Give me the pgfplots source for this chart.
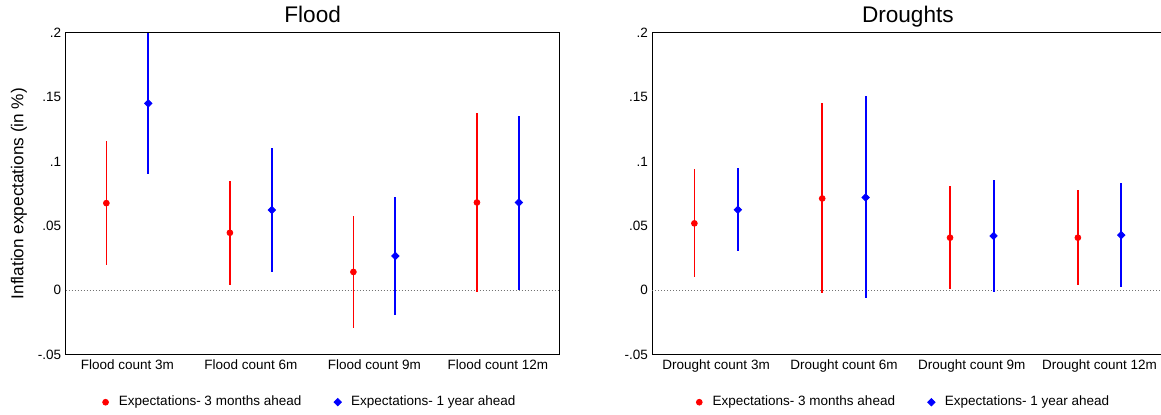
\documentclass[border=0pt]{standalone}
\usepackage{fontspec}
\setmainfont{Liberation Sans}
\usepackage{pgfplots}
\usepackage{pgfplotstable}
\pgfplotsset{compat=1.18}

% x = category -/+ 0.17, point estimate, lower and upper bound
\pgfplotstableread{
x    y      lo      hi
0.83 0.0676 0.0194  0.1156
1.83 0.0446 0.0044  0.0849
2.83 0.0142 -0.0292 0.0578
3.83 0.0681 -0.0015 0.1375
}\floodA
\pgfplotstableread{
x    y      lo      hi
1.17 0.1450 0.0903  0.1997
2.17 0.0622 0.0139  0.1105
3.17 0.0266 -0.0194 0.0725
4.17 0.0681 0.0005  0.1352
}\floodB
\pgfplotstableread{
x    y      lo      hi
0.83 0.0519 0.0101  0.0942
1.83 0.0712 -0.0021 0.1450
2.83 0.0408 0.0010  0.0808
3.83 0.0408 0.0041  0.0777
}\droughtA
\pgfplotstableread{
x    y      lo      hi
1.17 0.0625 0.0307  0.0947
2.17 0.0720 -0.0059 0.1505
3.17 0.0421 -0.0013 0.0857
4.17 0.0428 0.0028  0.0831
}\droughtB

\definecolor{sred}{RGB}{255,0,0}
\definecolor{sblue}{RGB}{0,0,255}

\pgfplotsset{
  panel/.style={
    scale only axis, height=161.1pt, anchor=south west,
    xmin=0.5, xmax=4.5, ymin=-0.05, ymax=0.2,
    xtick={1,2,3,4},
    ytick={-0.05,0,0.05,0.1,0.15,0.2},
    yticklabels={-.05,0,.05,.1,.15,.2},
    major tick length=0pt,
    axis line style={line width=0.6pt},
    tick label style={font=\fontsize{6.75}{8}\selectfont},
    yticklabel style={anchor=east, inner sep=0pt, xshift=-2pt},
    xticklabel style={anchor=base, inner sep=0pt, yshift=-7.3pt},
    every axis title shift=0pt,
    title style={font=\fontsize{11.3}{13}\selectfont, at={(0.5,1)}, anchor=base, yshift=4.85pt},
    legend columns=2,
    legend image code/.code={\draw[##1] plot coordinates {(0pt,0pt)}; \path (-2pt,-2pt) (2pt,2pt);},
    legend style={draw=none, fill=none, inner sep=0pt, anchor=west,
      font=\fontsize{6.75}{8}\selectfont, nodes={inner sep=0pt},
      /tikz/every odd column/.append style={column sep=4.5pt},
      /tikz/every even column/.append style={column sep=16pt}},
  },
  est/.style 2 args={only marks, color=#1,
    error bars/y dir=both, error bars/y explicit, error bars/error mark=none,
    error bars/error bar style={line width=#2, draw=#1}},
  m3/.style={est={sred}{0.85pt}, mark=*, mark size=1.45pt},
  y1/.style={est={sblue}{1pt}, mark=square*, mark size=1.3pt, mark options={rotate=45}},
}

\begin{document}
\begin{tikzpicture}
\useasboundingbox (0,0) rectangle (580.5pt,207.5pt);

\begin{axis}[panel, at={(32.8pt,30.15pt)}, width=247.05pt,
  title={Flood},
  xticklabels={Flood count 3m, Flood count 6m, Flood count 9m, Flood count 12m},
  ylabel={Inflation expectations (in \%)},
  every axis y label/.style={at={(axis description cs:-0.0856,0.5)}, rotate=90,
    anchor=base, font=\fontsize{8.6}{10}\selectfont},
  legend style={at={(0.0712,-0.1475)}}]
\draw[black!55, line width=0.5pt, dash pattern=on 0.5pt off 1pt]
  (axis cs:0.5,0) -- (axis cs:4.5,0);
\addplot[m3] table[x=x, y=y, y error plus expr=\thisrow{hi}-\thisrow{y},
  y error minus expr=\thisrow{y}-\thisrow{lo}] {\floodA};
\addlegendentry{Expectations- 3 months ahead}
\addplot[y1] table[x=x, y=y, y error plus expr=\thisrow{hi}-\thisrow{y},
  y error minus expr=\thisrow{y}-\thisrow{lo}] {\floodB};
\addlegendentry{Expectations- 1 year ahead}
\end{axis}

\begin{axis}[panel, at={(326.1pt,30.15pt)}, width=255.65pt,
  title={Droughts},
  xticklabels={Drought count 3m, Drought count 6m, Drought count 9m, Drought count 12m},
  legend style={at={(0.0827,-0.1475)}}]
\draw[black!55, line width=0.5pt, dash pattern=on 0.5pt off 1pt]
  (axis cs:0.5,0) -- (axis cs:4.5,0);
\addplot[m3] table[x=x, y=y, y error plus expr=\thisrow{hi}-\thisrow{y},
  y error minus expr=\thisrow{y}-\thisrow{lo}] {\droughtA};
\addlegendentry{Expectations- 3 months ahead}
\addplot[y1] table[x=x, y=y, y error plus expr=\thisrow{hi}-\thisrow{y},
  y error minus expr=\thisrow{y}-\thisrow{lo}] {\droughtB};
\addlegendentry{Expectations- 1 year ahead}
\end{axis}
\end{tikzpicture}
\end{document}
